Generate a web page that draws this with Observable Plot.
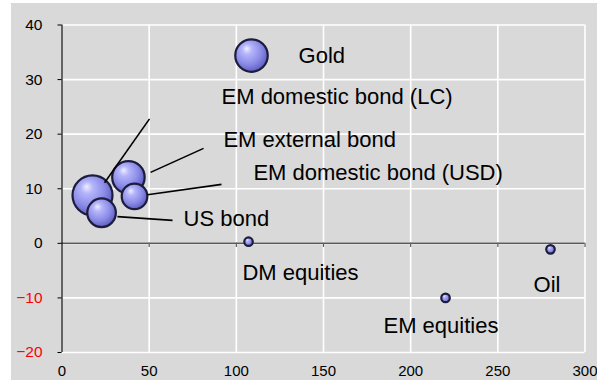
<!DOCTYPE html>
<html>
<head>
<meta charset="utf-8">
<script src="https://cdn.jsdelivr.net/npm/d3@7"></script>
<script src="https://cdn.jsdelivr.net/npm/@observablehq/plot@0.6"></script>
<style>
  html, body { margin: 0; padding: 0; background: #ffffff; }
  #wrap { position: relative; width: 597px; height: 380px; overflow: hidden; }
  #panel { position: absolute; left: 11px; top: 3px; right: 0; bottom: 0; background: #d9d9d9; }
  #chart { position: absolute; left: 0; top: 0; }
</style>
</head>
<body>
<div id="wrap"><div id="panel"></div><div id="chart"></div></div>
<script>
// ---- data ----
const assets = ["Gold", "EM domestic bond (LC)", "EM external bond", "EM domestic bond (USD)", "US bond", "DM equities", "EM equities", "Oil"];
const xValues = [108.7, 17.5, 38.1, 41.6, 22.7, 107, 220, 280.2];
const yValues = [34.4, 8.8, 12.1, 8.6, 5.6, 0.3, -10.0, -1.1];
const sizes   = [2.9, 4.4, 2.9, 1.8, 2.25, 0.2, 0.2, 0.2];

// label anchor (data units) for each asset
const labelX = [135.7, 91.5, 92.6, 109.8, 69.7, 103.5, 184.4, 270.5];
const labelY = [34.4, 26.8, 18.9, 12.9, 4.5, -5.5, -15.1, -7.6];

// leader lines (data units)
const leaderAsset = ["EM domestic bond (LC)", "EM external bond", "EM domestic bond (USD)", "US bond"];
const leaderX1 = [24.4, 50.8, 49.0, 31.8];
const leaderY1 = [11.1, 13.0, 8.9, 4.9];
const leaderX2 = [50.2, 81.2, 91.5, 63.4];
const leaderY2 = [22.8, 17.4, 10.8, 4.2];

const xTicks = [0, 50, 100, 150, 200, 250, 300];
const yTicksPos = [0, 10, 20, 30, 40];
const yTicksNeg = [-20, -10];

// ---- tables ----
const points = assets.map((a, i) => ({name: a, x: xValues[i], y: yValues[i], size: sizes[i]}));
const labels = assets.map((a, i) => ({name: a, x: labelX[i], y: labelY[i]}));
const leaders = leaderAsset.map((a, i) => ({name: a, x1: leaderX1[i], y1: leaderY1[i], x2: leaderX2[i], y2: leaderY2[i]}));
const allYTicks = yTicksNeg.concat(yTicksPos);

const defsMark = () => {
  const defs = d3.create("svg:defs");
  const g = defs.append("radialGradient")
    .attr("id", "bubGrad").attr("cx", "0.42").attr("cy", "0.40").attr("r", "0.62")
    .attr("fx", "0.35").attr("fy", "0.28");
  [["0%", "#eeeeff"], ["25%", "#b4b4fa"], ["65%", "#8c8ce8"], ["100%", "#5c5cc0"]].forEach(([o, c]) =>
    g.append("stop").attr("offset", o).attr("stop-color", c));
  return defs.node();
};

const chart = Plot.plot({
  width: 597,
  height: 380,
  marginLeft: 61.5,
  marginRight: 12.5,
  marginTop: 24.5,
  marginBottom: 28,
  style: {background: "transparent", fontFamily: "'Liberation Sans', Arial, sans-serif", overflow: "visible"},
  x: {domain: [0, 300]},
  y: {domain: [-20, 40]},
  r: {domain: [0, 4.4], range: [0, 20]},
  marks: [
    defsMark,
    Plot.gridX(xTicks, {stroke: "#ffffff", strokeOpacity: 1, strokeWidth: 1.6}),
    Plot.gridY(allYTicks, {stroke: "#ffffff", strokeOpacity: 1, strokeWidth: 1.6}),
    Plot.ruleY([0], {stroke: "#5a5a5a", strokeWidth: 1.5}),
    Plot.ruleX(xTicks.slice(1), {y1: 0, y2: -0.75, stroke: "#5a5a5a", strokeWidth: 1.2}),
    Plot.ruleX([0], {y1: -20, y2: 40, stroke: "#000000", strokeWidth: 1.2}),
    Plot.axisY(allYTicks, {tickSize: 4, tickFormat: () => "", color: "#000000"}),
    Plot.axisY(yTicksPos, {tickSize: 0, tickPadding: 19.5, fontSize: 15.5, color: "#000000"}),
    Plot.axisY(yTicksNeg, {tickSize: 0, tickPadding: 19.5, fontSize: 15.5, color: "#ff0000"}),
    Plot.axisX(xTicks, {anchor: "bottom", tickSize: 0, tickPadding: 13, fontSize: 15, color: "#000000"}),
    Plot.dot(points, {x: "x", y: "y", r: "size", fill: "url(#bubGrad)", stroke: "#1c1c3c", strokeWidth: 2.2}),
    Plot.link(leaders, {x1: "x1", y1: "y1", x2: "x2", y2: "y2", stroke: "#000000", strokeWidth: 1.6}),
    Plot.text(labels, {x: "x", y: "y", text: "name", textAnchor: "start", lineAnchor: "middle", fontSize: 22, fill: "#000000"})
  ]
});
document.getElementById("chart").appendChild(chart);
</script>
</body>
</html>
